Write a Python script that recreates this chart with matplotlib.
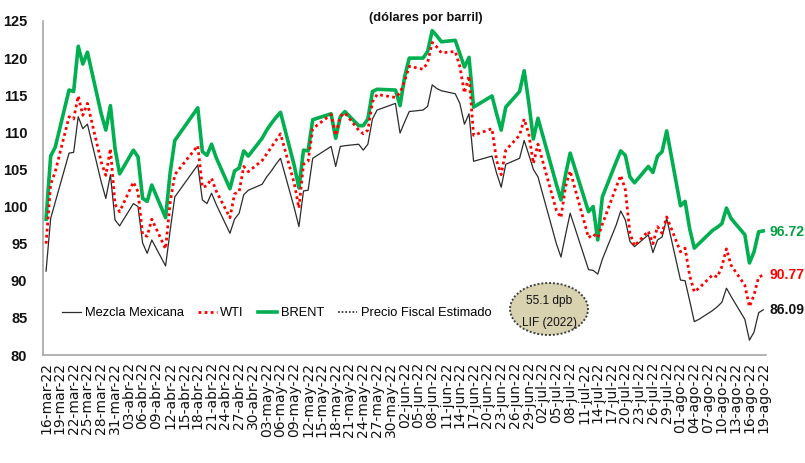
import matplotlib
matplotlib.use("Agg")
import matplotlib.pyplot as plt
import matplotlib.dates as mdates
from matplotlib.patches import Ellipse
import datetime as dt

# ---------------- data ----------------
mar_days = [16, 17, 18, 21, 22, 23, 24, 25, 28, 29, 30, 31]
apr_days = [1, 4, 5, 6, 7, 8, 11, 12, 13, 18, 19, 20, 21, 22, 25, 26, 27, 28, 29]
may_days = [2, 3, 4, 5, 6, 9, 10, 11, 12, 13, 17, 18, 19, 20, 23, 24, 25, 26, 27, 31]
jun_days = [1, 2, 3, 6, 7, 8, 9, 10, 13, 14, 15, 16, 17, 21, 22, 23, 24, 27, 28, 29, 30]
jul_days = [1, 5, 6, 7, 8, 12, 13, 14, 15, 18, 19, 20, 21, 22, 25, 26, 27, 28, 29]
ago_days = [1, 2, 3, 4, 5, 8, 9, 10, 11, 12, 15, 16, 17, 18, 19]

brent = ([98.3, 106.8, 108.0, 115.7, 115.5, 121.6, 119.2, 120.8, 112.5, 110.3, 113.6, 107.8]
         + [104.4, 107.6, 106.7, 101.1, 100.7, 102.9, 98.5, 104.6, 108.9, 113.3, 107.4, 106.9, 108.4, 106.6, 102.4, 104.8, 105.2, 107.5, 106.8]
         + [109.2, 110.3, 111.2, 112.0, 112.7, 105.5, 102.5, 107.6, 107.5, 111.7, 112.5, 109.2, 112.1, 112.8, 110.9, 110.9, 111.8, 115.5, 115.8, 115.7]
         + [113.6, 117.5, 120.0, 120.0, 120.9, 123.7, 123.0, 122.2, 122.4, 120.6, 118.8, 120.1, 113.4, 114.9, 112.5, 110.3, 113.4, 115.5, 118.3, 114.0, 109.1]
         + [111.9, 103.0, 100.9, 104.3, 107.2, 99.3, 100.0, 95.5, 101.3, 106.0, 107.5, 106.9, 104.0, 103.2, 105.4, 104.6, 106.8, 107.4, 110.2]
         + [100.1, 100.7, 97.0, 94.4, 95.0, 96.8, 97.2, 97.7, 99.8, 98.4, 96.2, 92.4, 93.9, 96.6, 96.72])

wti = ([95.0, 103.0, 104.7, 112.1, 111.8, 114.9, 112.3, 113.9, 106.0, 104.2, 107.8, 100.3]
       + [99.3, 103.3, 102.0, 96.2, 96.0, 98.3, 94.3, 100.6, 104.3, 108.2, 102.6, 102.8, 103.8, 102.1, 98.5, 101.7, 102.0, 105.4, 104.7]
       + [106.2, 107.1, 108.0, 108.9, 109.8, 103.1, 99.8, 105.7, 106.1, 110.5, 112.4, 109.6, 112.2, 112.6, 110.3, 109.8, 110.3, 114.1, 115.1, 114.7]
       + [115.3, 116.9, 118.9, 118.5, 119.4, 122.1, 121.5, 120.7, 120.9, 118.9, 115.3, 117.6, 109.6, 110.5, 106.2, 104.3, 107.6, 109.6, 111.8, 109.8, 105.8]
       + [108.4, 99.5, 98.5, 102.7, 104.8, 95.8, 96.3, 95.8, 97.6, 102.6, 104.2, 102.3, 96.4, 94.7, 96.7, 95.0, 97.3, 96.4, 98.6]
       + [93.9, 94.4, 90.7, 88.5, 89.0, 90.8, 90.5, 91.9, 94.3, 92.1, 89.4, 86.5, 88.1, 90.5, 90.77])

mezcla = ([91.3, 98.4, 100.6, 107.2, 107.3, 112.1, 110.5, 111.1, 103.3, 101.1, 104.3, 98.2]
          + [97.4, 100.4, 100.0, 95.1, 93.7, 95.5, 92.0, 96.8, 101.3, 105.6, 100.9, 100.4, 101.8, 100.3, 96.4, 98.3, 99.1, 101.6, 102.2]
          + [103.0, 104.0, 104.8, 105.7, 106.5, 99.8, 97.3, 102.1, 102.2, 106.5, 108.1, 105.4, 108.1, 108.2, 108.4, 107.6, 108.4, 111.8, 113.0, 113.9]
          + [109.9, 111.4, 112.8, 113.0, 113.5, 116.4, 115.9, 115.6, 115.2, 113.9, 111.1, 112.5, 106.1, 106.8, 104.5, 102.6, 105.7, 106.5, 108.9, 107.0, 105.0]
          + [104.0, 95.0, 93.2, 96.2, 99.1, 91.5, 91.4, 90.9, 92.9, 97.5, 99.4, 98.2, 95.3, 94.6, 96.2, 93.8, 95.5, 95.9, 98.4]
          + [90.1, 90.0, 87.3, 84.5, 84.8, 86.0, 86.5, 87.1, 89.0, 87.9, 84.8, 82.0, 83.1, 85.7, 86.09])

precio_fiscal = 55.1
last_labels = ["96.72", "90.77", "86.09"]
meses = ['ene', 'feb', 'mar', 'abr', 'may', 'jun', 'jul', 'ago', 'sep', 'oct', 'nov', 'dic']

dates = ([dt.date(2022, 3, d) for d in mar_days] + [dt.date(2022, 4, d) for d in apr_days]
         + [dt.date(2022, 5, d) for d in may_days] + [dt.date(2022, 6, d) for d in jun_days]
         + [dt.date(2022, 7, d) for d in jul_days] + [dt.date(2022, 8, d) for d in ago_days])

# ---------------- figure ----------------
SANS = ['Liberation Sans', 'DejaVu Sans']

fig = plt.figure(figsize=(8.05, 4.63), dpi=100)
ax = fig.add_axes([43.3 / 805, 1 - 355 / 463, (766 - 43.3) / 805, (355 - 21) / 463])

ax.plot(dates, mezcla, color='#2b2b2b', lw=0.9, label='Mezcla Mexicana', zorder=3)
ax.plot(dates, wti, color='#ff0000', lw=2.0, linestyle=(0, (1, 1.2)), label='WTI', zorder=4)
ax.plot(dates, brent, color='#00b050', lw=2.6, label='BRENT', zorder=2)
ax.plot([dates[0], dates[-1]], [precio_fiscal, precio_fiscal], color='#404040', lw=1.3,
        linestyle=(0, (1, 1)), label='Precio Fiscal Estimado', zorder=1)

x0 = dt.date(2022, 3, 16)
x1 = dt.date(2022, 8, 19)
ax.set_xlim(mdates.date2num(x0) - 0.6, mdates.date2num(x1) + 0.6)
ax.set_ylim(80, 125)

ticks = [x0 + dt.timedelta(days=k) for k in range(0, (x1 - x0).days + 1, 3)]
ax.set_xticks([mdates.date2num(t) for t in ticks])
ax.set_xticklabels([f"{t.day:02d}-{meses[t.month - 1]}-{t.year % 100:02d}" for t in ticks],
                   rotation=90, fontsize=10, family='DejaVu Sans', color='#111111')
ax.set_yticks(range(80, 126, 5))
ax.set_yticklabels([str(v) for v in range(80, 126, 5)], fontsize=10.5, fontweight='bold',
                   family=SANS, color='#111111')
ax.tick_params(axis='x', length=0, pad=5)
ax.tick_params(axis='y', length=0, pad=11.5)

for s in ['top', 'right']:
    ax.spines[s].set_visible(False)
for s in ['left', 'bottom']:
    ax.spines[s].set_color('#a6a6a6')
    ax.spines[s].set_linewidth(1.2)

# end-value labels
ax.annotate(last_labels[0], xy=(769 / 805, 1 - 232 / 463), xycoords='figure fraction',
            color='#00a040', fontsize=10, fontweight='bold', family=SANS, va='center', ha='left')
ax.annotate(last_labels[1], xy=(769 / 805, 1 - 275 / 463), xycoords='figure fraction',
            color='#ff0000', fontsize=10, fontweight='bold', family=SANS, va='center', ha='left')
ax.annotate(last_labels[2], xy=(769 / 805, 1 - 310 / 463), xycoords='figure fraction',
            color='#111111', fontsize=10, fontweight='bold', family=SANS, va='center', ha='left')

# title
fig.text(426 / 805, 1 - 18 / 463, '(dólares por barril)', ha='center', va='center',
         fontsize=9.2, fontweight='bold', family=SANS, color='#111111')

# ellipse annotation
ell = Ellipse((549 / 805, 1 - 309 / 463), 78 / 805, 52 / 463, transform=fig.transFigure,
              facecolor='#d8d2b0', edgecolor='#404040', lw=1.4, linestyle=(0, (1, 1)), zorder=5)
fig.patches.append(ell)
fig.text(549 / 805, 1 - 301 / 463, '55.1 dpb', ha='center', va='center', fontsize=8.6,
         family=SANS, color='#111111', zorder=6)
fig.text(549 / 805, 1 - 323 / 463, 'LIF (2022)', ha='center', va='center', fontsize=8.6,
         family=SANS, color='#111111', zorder=6)

# legend
leg = fig.legend(loc='center left', bbox_to_anchor=(62 / 805, 1 - 313 / 463), ncol=4,
                 frameon=False, prop={'family': SANS, 'size': 9.3},
                 handlelength=1.45, handletextpad=0.3, columnspacing=1.1, borderpad=0,
                 borderaxespad=0)

fig.savefig('out.png', dpi=100)
